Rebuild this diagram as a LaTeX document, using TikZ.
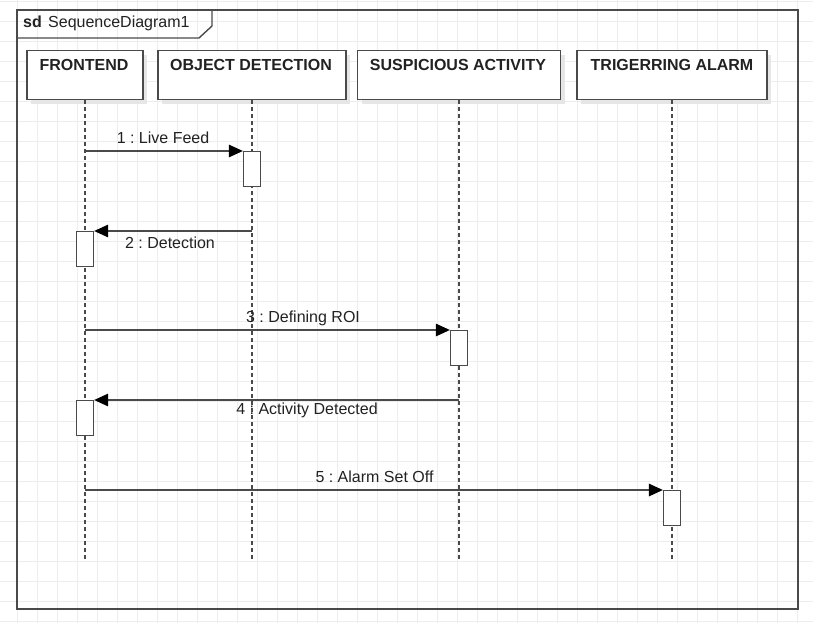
\documentclass[tikz,border=0pt]{standalone}
\usepackage{fontspec}
\setmainfont{Liberation Sans}
\usetikzlibrary{arrows.meta,shadows}
\frenchspacing

\definecolor{gridc}{HTML}{EDEDED}
\definecolor{linec}{HTML}{4A4A4A}
\definecolor{textc}{HTML}{222222}
\definecolor{shadowc}{HTML}{E6E6E6}

\tikzset{
  txt/.style={font=\fontsize{16}{19}\selectfont, text=textc, inner sep=0pt},
  boldtxt/.style={font=\fontsize{16}{19}\selectfont\bfseries, text=textc, inner sep=0pt},
  lifebox/.style={draw=linec, line width=1.3pt, fill=white, minimum width=#1,
    minimum height=49pt, inner sep=0pt,
    drop shadow={shadow xshift=4pt, shadow yshift=-4pt, fill=shadowc, opacity=1}},
  actbox/.style={draw=linec, line width=1.3pt, fill=white, minimum width=17pt,
    minimum height=35pt, inner sep=0pt, anchor=north},
  lifeline/.style={draw=linec, line width=1.3pt, dash pattern=on 3.5pt off 3.5pt},
  msg/.style={draw=linec, line width=1.3pt,
    -{Triangle[length=14pt,width=12.5pt,fill=black,color=black]}},
  framec/.style={draw=linec, line width=1.4pt},
}

\begin{document}
\begin{tikzpicture}[x=1pt,y=-1pt]
\useasboundingbox (0,0) rectangle (813,623);
\fill[white] (0,0) rectangle (813,623);

% grid
\foreach \x in {-3,17,...,817} \draw[gridc, line width=0.9pt] (\x,0) -- (\x,623);
\foreach \y in {1,21,...,621} \draw[gridc, line width=0.9pt] (0,\y) -- (813,\y);

% frame
\draw[framec] (17,10) rectangle (798,609);
\draw[framec] (17,38) -- (199,38) -- (212,26) -- (212,10);
\node[boldtxt, anchor=base west] (sd) at (23,28) {sd};
\node[txt, anchor=base west] (sdname) at (48,28) {SequenceDiagram1};

% lifeline heads
\node[lifebox=116pt, anchor=north] (fe) at (85,50) {};
\node[lifebox=188pt, anchor=north] (od) at (252,50) {};
\node[lifebox=203pt, anchor=north] (sa) at (459,50) {};
\node[lifebox=190pt, anchor=north] (ta) at (672,50) {};
\node[boldtxt, anchor=base] (feL) at (84,71) {FRONTEND};
\node[boldtxt, anchor=base] (odL) at (251,71) {OBJECT DETECTION};
\node[boldtxt, anchor=base] (saL) at (458,71) {SUSPICIOUS ACTIVITY};
\node[boldtxt, anchor=base] (taL) at (672,71) {TRIGERRING ALARM};

% lifeline ends
\coordinate (feE) at (85,560);
\coordinate (odE) at (252,560);
\coordinate (saE) at (459,560);
\coordinate (taE) at (672,560);
\draw[lifeline] (fe.south) -- (feE);
\draw[lifeline] (od.south) -- (odE);
\draw[lifeline] (sa.south) -- (saE);
\draw[lifeline] (ta.south) -- (taE);

% activation boxes
\node[actbox] (a1) at (252,151) {};
\node[actbox] (a2) at (85,231) {};
\node[actbox] (a3) at (459,330) {};
\node[actbox] (a4) at (85,400) {};
\node[actbox] (a5) at (672,490) {};

% message start points on lifelines
\coordinate (m1) at (85,151);
\coordinate (m2) at (252,231);
\coordinate (m3) at (85,330);
\coordinate (m4) at (459,400);
\coordinate (m5) at (85,490);

\draw[msg] (m1) -- (a1.north west);
\draw[msg] (m2) -- (a2.north east);
\draw[msg] (m3) -- (a3.north west);
\draw[msg] (m4) -- (a4.north east);
\draw[msg] (m5) -- (a5.north west);

\node[txt, anchor=base] (l1) at (163,143) {1 : Live Feed};
\node[txt, anchor=base] (l2) at (170,248) {2 : Detection};
\node[txt, anchor=base] (l3) at (303,322) {3 : Defining ROI};
\node[txt, anchor=base] (l4) at (307,414) {4 : Activity Detected};
\node[txt, anchor=base] (l5) at (374.5,482) {5 : Alarm Set Off};
\end{tikzpicture}
\end{document}
